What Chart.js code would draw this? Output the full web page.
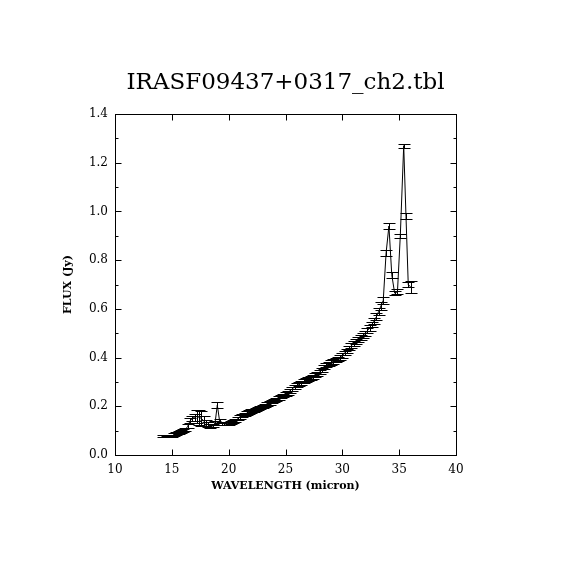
<!DOCTYPE html>
<html>
<head>
<meta charset="utf-8">
<script src="https://cdn.jsdelivr.net/npm/chart.js@4.4.1/dist/chart.umd.min.js"></script>
<style>
  html, body { margin: 0; padding: 0; background: #fff; }
  canvas { display: block; }
</style>
</head>
<body>
<canvas id="spectrum" width="570" height="570"></canvas>
<script>
// Spectrum values
const wavelength = [
  14.2, 14.4, 14.6, 14.8, 15.0, 15.2, 15.4, 15.6, 15.8, 16.0, 16.2,
  16.4, 16.6, 16.8, 17.0, 17.2, 17.4, 17.6, 17.8, 18.0, 18.2, 18.4, 18.6, 18.8,
  19.0,
  19.2, 19.4, 19.6, 19.8, 20.0, 20.2, 20.4, 20.6, 20.8,
  21.0, 21.2, 21.4, 21.6, 21.8, 22.0, 22.2, 22.4, 22.6, 22.8,
  23.0, 23.2, 23.4, 23.6, 23.8, 24.0, 24.2, 24.4, 24.6, 24.8,
  25.0, 25.2, 25.4, 25.6, 25.8, 26.0, 26.2, 26.4, 26.6, 26.8,
  27.0, 27.2, 27.4, 27.6, 27.8, 28.0, 28.2, 28.4, 28.6, 28.8,
  29.0, 29.2, 29.4, 29.6, 29.8, 30.0, 30.2, 30.4, 30.6, 30.8,
  31.0, 31.2, 31.4, 31.6, 31.8,
  32.0, 32.2, 32.4, 32.6, 32.8, 33.0, 33.2, 33.4, 33.6,
  33.85, 34.1, 34.35, 34.6, 34.85, 35.1, 35.4, 35.6, 35.8, 36.0];
const flux = [
  0.078, 0.077, 0.076, 0.077, 0.078, 0.084, 0.089, 0.093, 0.097, 0.100, 0.104,
  0.118, 0.140, 0.150, 0.155, 0.158, 0.155, 0.150, 0.140, 0.130, 0.124, 0.120, 0.122, 0.130,
  0.205,
  0.140, 0.130, 0.128, 0.129, 0.131, 0.134, 0.138, 0.143, 0.149,
  0.156, 0.162, 0.167, 0.172, 0.176, 0.180, 0.183, 0.187, 0.191, 0.195,
  0.200, 0.204, 0.209, 0.214, 0.219, 0.224, 0.229, 0.234, 0.239, 0.244,
  0.250, 0.256, 0.264, 0.272, 0.279, 0.286, 0.292, 0.297, 0.302, 0.307,
  0.312, 0.317, 0.322, 0.328, 0.334, 0.341, 0.350, 0.360, 0.368, 0.374,
  0.379, 0.384, 0.389, 0.395, 0.401, 0.409, 0.418, 0.428, 0.439, 0.449,
  0.458, 0.466, 0.474, 0.482, 0.490,
  0.499, 0.510, 0.522, 0.536, 0.550, 0.568, 0.590, 0.612, 0.635,
  0.830, 0.940, 0.740, 0.665, 0.670, 0.900, 1.270, 0.980, 0.700, 0.690];
const fluxErr = [
  0.004, 0.004, 0.004, 0.004, 0.004, 0.005, 0.005, 0.005, 0.006, 0.006, 0.006,
  0.008, 0.010, 0.012, 0.015, 0.025, 0.030, 0.030, 0.020, 0.012, 0.010, 0.008, 0.007, 0.008,
  0.012,
  0.008, 0.006, 0.006, 0.006, 0.006, 0.006, 0.006, 0.006, 0.006,
  0.007, 0.007, 0.007, 0.007, 0.007, 0.007, 0.007, 0.007, 0.007, 0.007,
  0.007, 0.007, 0.007, 0.007, 0.007, 0.007, 0.007, 0.007, 0.007, 0.007,
  0.008, 0.008, 0.008, 0.008, 0.008, 0.008, 0.008, 0.008, 0.008, 0.008,
  0.008, 0.008, 0.008, 0.008, 0.008, 0.008, 0.008, 0.008, 0.008, 0.008,
  0.009, 0.009, 0.009, 0.009, 0.009, 0.009, 0.009, 0.009, 0.009, 0.009,
  0.009, 0.009, 0.009, 0.009, 0.009,
  0.010, 0.011, 0.012, 0.012, 0.013, 0.014, 0.014, 0.015, 0.015,
  0.012, 0.012, 0.012, 0.010, 0.010, 0.008, 0.008, 0.012, 0.010, 0.025];

const xTicks = [10, 15, 20, 25, 30, 35, 40];
const yTicks = ['0.0', '0.2', '0.4', '0.6', '0.8', '1.0', '1.2', '1.4'];
const yMinorTicks = [0.1, 0.3, 0.5, 0.7, 0.9, 1.1, 1.3];

const titleText = 'IRASF09437+0317_ch2.tbl';
const xLabel = 'WAVELENGTH (micron)';
const yLabel = 'FLUX (Jy)';

const serif = "'DejaVu Serif', 'Liberation Serif', serif";

// error bars with little caps, drawn through the scales
const errorBars = {
    id: 'errorBars',
    afterDatasetsDraw(chart) {
        const ctx = chart.ctx;
        const x = chart.scales.x, y = chart.scales.y;
        ctx.save();
        ctx.strokeStyle = '#000';
        ctx.lineWidth = 1;
        ctx.beginPath();
        wavelength.forEach((w, i) => {
            const px = Math.round(x.getPixelForValue(w)) + 0.5;
            const top = Math.round(y.getPixelForValue(flux[i] + fluxErr[i])) + 0.5;
            const bot = Math.round(y.getPixelForValue(flux[i] - fluxErr[i])) + 0.5;
            ctx.moveTo(px, top); ctx.lineTo(px, bot);
            ctx.moveTo(px - 6, top); ctx.lineTo(px + 6, top);
            ctx.moveTo(px - 6, bot); ctx.lineTo(px + 6, bot);
        });
        ctx.stroke();
        ctx.restore();
    }
};

// box, inward ticks, title and axis labels
const frame = {
    id: 'frame',
    afterDraw(chart) {
        const ctx = chart.ctx;
        const a = chart.chartArea;
        const x = chart.scales.x, y = chart.scales.y;
        ctx.save();
        ctx.strokeStyle = '#000';
        ctx.lineWidth = 1;
        const l = Math.round(a.left) + 0.5, r = Math.round(a.right) + 0.5;
        const t = Math.round(a.top) + 0.5, b = Math.round(a.bottom) + 0.5;
        ctx.strokeRect(l, t, r - l, b - t);
        ctx.beginPath();
        xTicks.forEach(v => {
            const px = Math.round(x.getPixelForValue(v)) + 0.5;
            ctx.moveTo(px, b); ctx.lineTo(px, b - 6);
            ctx.moveTo(px, t); ctx.lineTo(px, t + 6);
        });
        yTicks.forEach(v => {
            const py = Math.round(y.getPixelForValue(parseFloat(v))) + 0.5;
            ctx.moveTo(l, py); ctx.lineTo(l + 6, py);
            ctx.moveTo(r, py); ctx.lineTo(r - 6, py);
        });
        yMinorTicks.forEach(v => {
            const py = Math.round(y.getPixelForValue(v)) + 0.5;
            ctx.moveTo(l, py); ctx.lineTo(l + 3, py);
            ctx.moveTo(r, py); ctx.lineTo(r - 3, py);
        });
        ctx.stroke();

        ctx.fillStyle = '#000';
        ctx.textAlign = 'center';
        ctx.textBaseline = 'middle';
        ctx.font = '23px ' + serif;
        ctx.fillText(titleText, (a.left + a.right) / 2, 83);
        ctx.font = 'bold 11px ' + serif;
        ctx.fillText(xLabel, (a.left + a.right) / 2, 486);
        ctx.translate(68, (a.top + a.bottom) / 2);
        ctx.rotate(-Math.PI / 2);
        ctx.fillText(yLabel, 0, 0);
        ctx.restore();
    }
};

new Chart(document.getElementById('spectrum'), {
    type: 'line',
    data: {
        datasets: [{
            data: wavelength.map((w, i) => ({ x: w, y: flux[i] })),
            borderColor: '#000',
            borderWidth: 1,
            pointRadius: 0,
            tension: 0,
            fill: false
        }]
    },
    options: {
        responsive: false,
        animation: false,
        layout: { padding: { top: 114, right: 114, left: 0, bottom: 0 } },
        plugins: { legend: { display: false }, tooltip: { enabled: false } },
        scales: {
            x: {
                type: 'linear',
                min: 10,
                max: 40,
                afterBuildTicks: s => { s.ticks = xTicks.map(v => ({ value: v })); },
                afterFit: s => { s.height = 115; },
                grid: { display: false, drawTicks: false },
                border: { display: false },
                ticks: {
                    color: '#000',
                    padding: 8,
                    maxRotation: 0,
                    font: { family: serif, size: 12 },
                    callback: v => String(v)
                }
            },
            y: {
                min: 0,
                max: 1.4,
                afterBuildTicks: s => { s.ticks = yTicks.map(v => ({ value: parseFloat(v) })); },
                afterFit: s => { s.width = 115; },
                grid: { display: false, drawTicks: false },
                border: { display: false },
                ticks: {
                    color: '#000',
                    padding: 7,
                    font: { family: serif, size: 12 },
                    callback: v => v.toFixed(1)
                }
            }
        }
    },
    plugins: [errorBars, frame]
});
</script>
</body>
</html>
